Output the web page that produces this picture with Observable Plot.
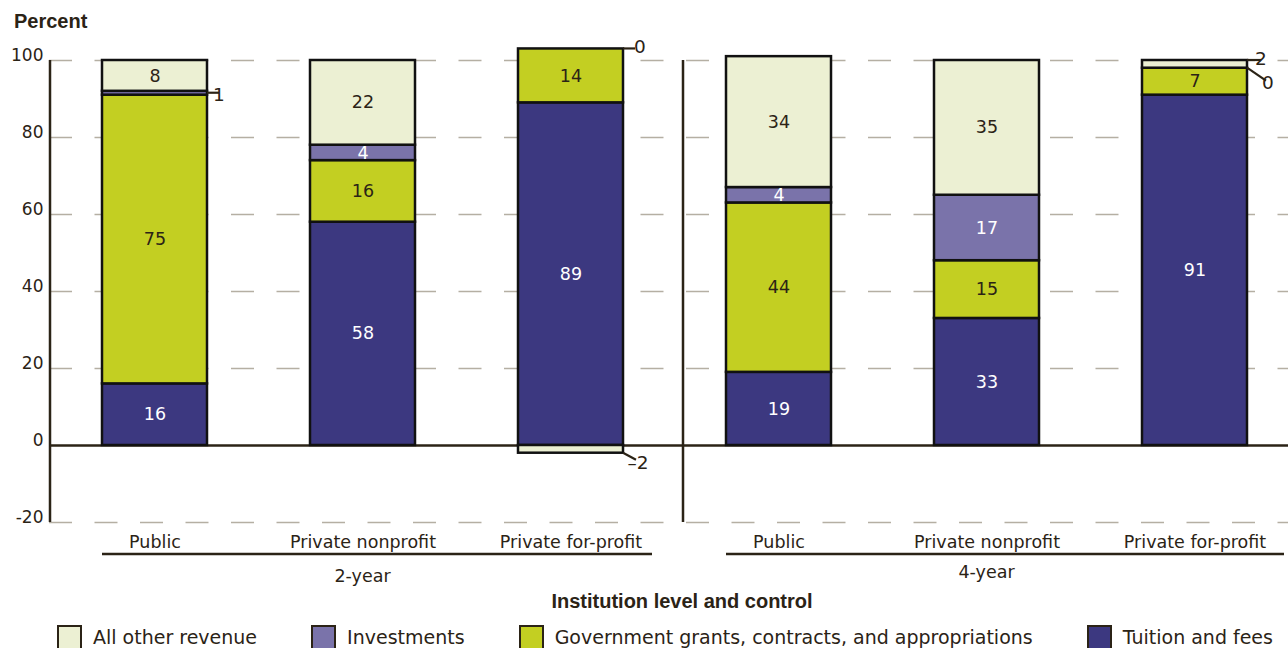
<!DOCTYPE html>
<html>
<head>
<meta charset="utf-8">
<script src="https://cdn.jsdelivr.net/npm/d3@7"></script>
<script src="https://cdn.jsdelivr.net/npm/@observablehq/plot@0.6"></script>
<style>
  html, body { margin: 0; padding: 0; background: #fff; overflow: hidden; }
  #wrap { position: relative; width: 1288px; height: 648px; font-family: "DejaVu Sans", sans-serif; color: #2b2316; }
  #chart { position: absolute; left: 0; top: 0; }
  #ylab { position: absolute; left: 14px; top: 11px; font: bold 20px/20px "Liberation Sans", Arial, sans-serif; color: #2b2316; }
  #xtitle { position: absolute; left: 682px; top: 591px; transform: translateX(-50%); white-space: nowrap;
            font: bold 20px/20px "Liberation Sans", Arial, sans-serif; color: #2b2316; }
  #legend { position: absolute; left: 57px; top: 624px; width: 1216px; height: 26px;
            display: flex; justify-content: space-between; align-items: center; }
  .item { display: flex; align-items: center; font-size: 19px; line-height: 26px; white-space: nowrap; }
  .sw { box-sizing: border-box; width: 25px; height: 25px; border: 2px solid #2b2316; margin-right: 11px; }
</style>
</head>
<body>
<div id="wrap">
  <div id="chart"></div>
  <div id="ylab"></div>
  <div id="xtitle"></div>
  <div id="legend"></div>
</div>
<script>
// ---------- data ----------
const levels = ["2-year", "4-year"];
const categories = ["Public", "Private nonprofit", "Private for-profit"];
const seriesNames = ["Tuition and fees", "Government grants, contracts, and appropriations", "Investments", "All other revenue"];
const tuition      = [16, 58, 89, 19, 33, 91];
const government   = [75, 16, 14, 44, 15, 7];
const investments  = [1, 4, 0, 4, 17, 0];
const otherRevenue = [8, 22, -2, 34, 35, 2];
const seriesColors = ["#3c3880", "#c3cf22", "#7a73aa", "#ecf0d3"];
const legendOrder = ["All other revenue", "Investments", "Government grants, contracts, and appropriations", "Tuition and fees"];
const yTicks = [-20, 0, 20, 40, 60, 80, 100];
const yTitle = "Percent";
const xTitle = "Institution level and control";
// small segments labelled outside the bar: [bar index, series]
const outsideLabels = [[0, "Investments"], [2, "Investments"], [2, "All other revenue"], [5, "All other revenue"], [5, "Investments"]];

// ---------- build table ----------
const keys = [];
levels.forEach(l => categories.forEach(c => keys.push(l + "|" + c)));
const seriesValues = [tuition, government, investments, otherRevenue];
const rows = [];
seriesNames.forEach((s, si) => keys.forEach((k, i) => rows.push({key: k, series: s, value: seriesValues[si][i]})));
const lightText = new Set(["Tuition and fees", "Investments"]);

const ink = "#2b2316";
const fmt = v => v < 0 ? "\u2013" + Math.abs(v) : String(v);

function segExtent(i, name) {
  let pos = 0, neg = 0;
  for (let si = 0; si < seriesNames.length; si++) {
    const v = seriesValues[si][i];
    let lo, hi;
    if (v >= 0) { lo = pos; hi = pos + v; pos = hi; } else { hi = neg; lo = neg + v; neg = lo; }
    if (seriesNames[si] === name) return [lo, hi, v];
  }
}

// leader styling (offsets in px, relative to bar's right edge)
const leaderStyle = {
  "0|Investments":       {at: "mid", len: 12, drop: 0,  tx: 12, ty: 2},
  "2|Investments":       {at: "mid", len: 12, drop: 0,  tx: 17, ty: -2},
  "2|All other revenue": {at: "lo",  len: 13, drop: 7,  tx: 15, ty: 10},
  "5|All other revenue": {at: "hi",  len: 14, drop: 0,  tx: 14, ty: -1},
  "5|Investments":       {at: "mid", len: 19, drop: 13, tx: 21, ty: 15}
};
const underlineExtra = {"2-year": 29, "4-year": 37};
const groupDy = {"2-year": 54, "4-year": 50};
const panelGap = {"2-year": 52, "4-year": 43};

function extras(index, scales) {
  const x = scales.x, y = scales.y;
  const bw = typeof x.bandwidth === "function" ? x.bandwidth() : x.bandwidth;
  const g = d3.create("svg:g");
  // panel axis lines
  levels.forEach(l => {
    const px = x(l + "|" + categories[0]) - panelGap[l];
    g.append("line").attr("x1", px).attr("x2", px).attr("y1", y(100)).attr("y2", y(-20))
      .attr("stroke", ink).attr("stroke-width", 2.5);
  });
  // group underlines and labels
  levels.forEach(l => {
    const x1 = x(l + "|" + categories[0]);
    const x2 = x(l + "|" + categories[2]) + bw + underlineExtra[l];
    const yy = y(-20) + 32;
    g.append("line").attr("x1", x1).attr("x2", x2).attr("y1", yy).attr("y2", yy)
      .attr("stroke", ink).attr("stroke-width", 2.5);
    g.append("text").attr("x", x(l + "|" + categories[1]) + bw / 2).attr("y", y(-20) + groupDy[l])
      .attr("text-anchor", "middle").attr("dy", "0.35em").attr("fill", ink).attr("font-size", 17.5).text(l);
  });
  // outside labels with leaders
  outsideLabels.forEach(([i, name]) => {
    const st = leaderStyle[i + "|" + name];
    const [lo, hi, v] = segExtent(i, name);
    const val = st.at === "lo" ? lo : st.at === "hi" ? hi : (lo + hi) / 2;
    const xr = x(keys[i]) + bw;
    const y0 = y(val);
    g.append("line").attr("x1", xr).attr("x2", xr + st.len).attr("y1", y0).attr("y2", y0 + st.drop)
      .attr("stroke", ink).attr("stroke-width", 2.2);
    g.append("text").attr("x", xr + st.tx).attr("y", y0 + st.ty).attr("dy", "0.35em")
      .attr("fill", ink).attr("font-size", 18.5).text(fmt(v));
  });
  return g.node();
}

const chart = Plot.plot({
  width: 1288,
  height: 590,
  marginTop: 60,
  marginBottom: 68,
  marginLeft: 49,
  marginRight: 0,
  style: {fontFamily: "DejaVu Sans, sans-serif", fontSize: "17px", color: ink, background: "white"},
  x: {type: "band", domain: keys, range: [49.3, 1299.7], paddingInner: 0.4962, paddingOuter: 0.2481},
  y: {domain: [-20, 100]},
  color: {domain: seriesNames, range: seriesColors},
  marks: [
    Plot.ruleY(yTicks.filter(t => t !== 0), {stroke: "#b5afa3", strokeWidth: 1.5, strokeDasharray: "23,22.5"}),
    Plot.ruleY([0], {stroke: ink, strokeWidth: 2.5}),
    Plot.barY(rows, Plot.stackY({x: "key", y: "value", z: "series", order: seriesNames, fill: "series",
      stroke: "#111", strokeWidth: 2.5})),
    Plot.text(rows, Plot.stackY({x: "key", y: "value", z: "series", order: seriesNames,
      text: d => (lightText.has(d.series) && Math.abs(d.value) >= 4) ? fmt(d.value) : null,
      fill: "white", fontSize: 17.5})),
    Plot.text(rows, Plot.stackY({x: "key", y: "value", z: "series", order: seriesNames,
      text: d => (!lightText.has(d.series) && Math.abs(d.value) >= 4) ? fmt(d.value) : null,
      fill: ink, fontSize: 17.5})),
    Plot.axisY(yTicks, {tickSize: 0, tickPadding: 6, dy: -5, label: null, tickFormat: d => String(d), fontSize: 17, fill: ink}),
    Plot.axisX({tickSize: 0, tickPadding: 13, label: null, tickFormat: k => k.split("|")[1], fontSize: 17.5, fill: ink}),
    extras
  ]
});
document.getElementById("chart").appendChild(chart);
document.getElementById("ylab").textContent = yTitle;
document.getElementById("xtitle").textContent = xTitle;

const legend = document.getElementById("legend");
legendOrder.forEach(name => {
  const item = document.createElement("div");
  item.className = "item";
  const sw = document.createElement("span");
  sw.className = "sw";
  sw.style.background = seriesColors[seriesNames.indexOf(name)];
  const t = document.createElement("span");
  t.textContent = name;
  item.appendChild(sw);
  item.appendChild(t);
  legend.appendChild(item);
});
</script>
</body>
</html>
